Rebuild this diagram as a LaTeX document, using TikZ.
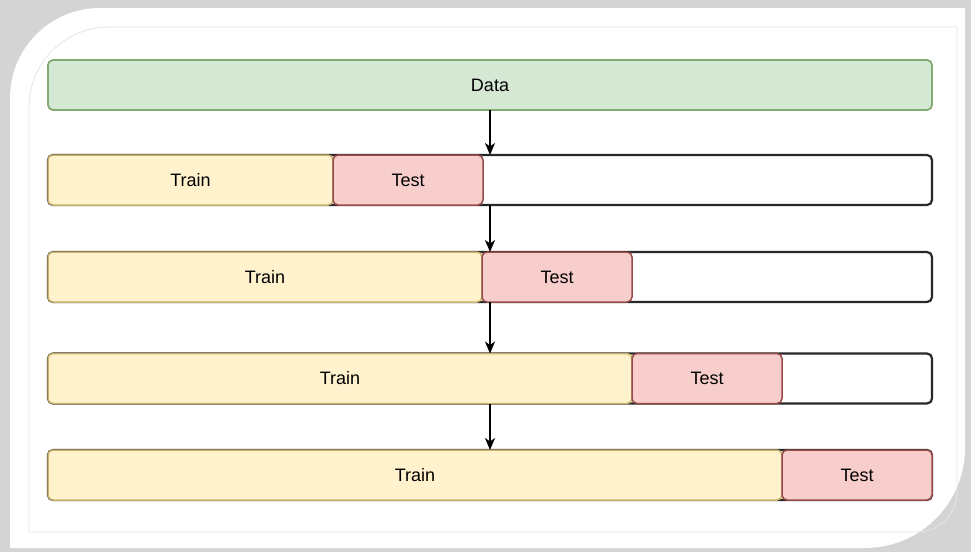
\documentclass[tikz,border=0pt]{standalone}
\usepackage{fontspec}
\setmainfont{Liberation Sans}
\usepackage{xcolor}
\usetikzlibrary{arrows.meta,positioning}
\definecolor{datafill}{RGB}{213,232,212}
\definecolor{dataline}{RGB}{130,170,115}
\definecolor{trainfill}{RGB}{255,242,204}
\definecolor{trainline}{RGB}{200,178,110}
\definecolor{testfill}{RGB}{248,206,204}
\definecolor{testline}{RGB}{150,75,72}
\definecolor{barline}{RGB}{40,40,40}
\definecolor{shadow}{RGB}{212,212,212}

\begin{document}
\begin{tikzpicture}[x=1pt,y=-1pt,
  bar/.style={rounded corners=5pt, minimum height=50pt, inner sep=0pt, outer sep=0pt,
    font=\fontsize{18}{21}\selectfont},
  emptybar/.style={bar, draw=barline, fill=white, line width=2.2pt, minimum width=884pt},
  databar/.style={bar, draw=dataline, fill=datafill, line width=1.8pt, minimum width=884pt},
  trainbar/.style={bar, draw=trainline, fill=trainfill, line width=1.5pt},
  testbar/.style={bar, draw=testline, fill=testfill, line width=1.5pt, minimum width=150pt},
  arrow/.style={-{Stealth[length=12pt,width=10pt,inset=3.5pt]}, line width=1.6pt}]
\useasboundingbox (0,0) rectangle (971,552);

% frame
\fill[shadow] (0,0) rectangle (971,552);
\fill[white] (10,548) -- (10,98) arc[start angle=180,end angle=270,radius=90]
  -- (965,8) -- (965,448) arc[start angle=0,end angle=90,radius=100] -- cycle;
\draw[gray!20, line width=0.8pt] (29,532) -- (29,107) arc[start angle=180,end angle=270,radius=80]
  -- (957,27) -- (957,492) arc[start angle=0,end angle=90,radius=40] -- cycle;

% data
\node[databar] (data) at (490,85) {Data};

% splits
\node[emptybar] (row1) at (490,180) {};
\node[trainbar, minimum width=285pt] (train1) at (190.5,180) {Train};
\node[testbar, right=0pt of train1] (test1) {Test};

\node[emptybar] (row2) at (490,277) {};
\node[trainbar, minimum width=434pt] (train2) at (265,277) {Train};
\node[testbar, right=0pt of train2] (test2) {Test};

\node[emptybar] (row3) at (490,378.5) {};
\node[trainbar, minimum width=584pt] (train3) at (340,378.5) {Train};
\node[testbar, right=0pt of train3] (test3) {Test};

\node[emptybar] (row4) at (490,475) {};
\node[trainbar, minimum width=734pt] (train4) at (415,475) {Train};
\node[testbar, right=0pt of train4] (test4) {Test};

% arrows
\draw[arrow] (data) -- (row1);
\draw[arrow] (row1) -- (row2);
\draw[arrow] (row2) -- (row3);
\draw[arrow] (row3) -- (row4);
\end{tikzpicture}
\end{document}
